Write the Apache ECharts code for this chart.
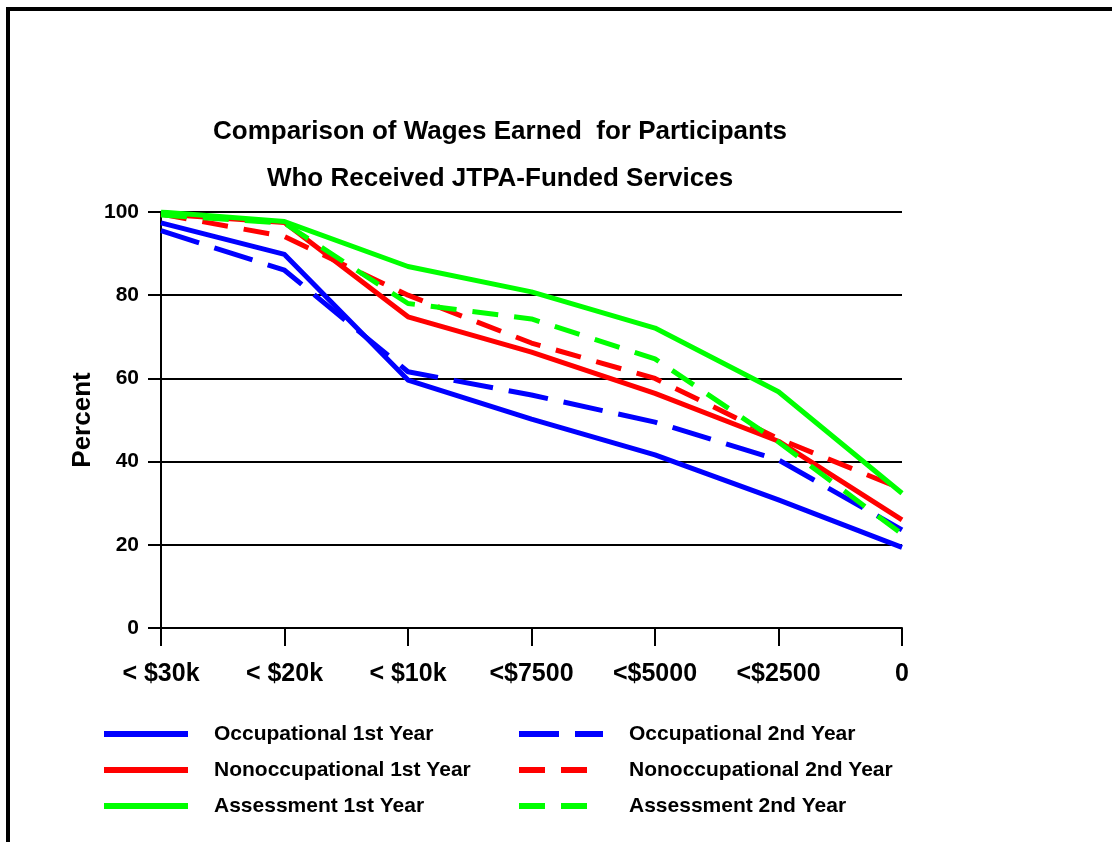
<!DOCTYPE html>
<html>
<head>
<meta charset="utf-8">
<script src="https://cdn.jsdelivr.net/npm/echarts@6/dist/echarts.min.js"></script>
<style>
html,body{margin:0;padding:0;background:#fff;}
#chart{width:1112px;height:842px;}
</style>
</head>
<body>
<div id="chart"></div>
<script>
const categories = ['< $30k', '< $20k', '< $10k', '<$7500', '<$5000', '<$2500', '0'];
const yTicks = [0, 20, 40, 60, 80, 100];
const occupational1 = [97.4, 89.8, 59.6, 50.2, 41.6, 30.8, 19.4];
const occupational2 = [95.5, 86.0, 61.6, 56.0, 49.5, 40.4, 23.6];
const nonoccupational1 = [99.5, 97.5, 74.8, 66.3, 56.4, 44.9, 26.0];
const nonoccupational2 = [99.5, 94.1, 80.0, 68.5, 60.0, 45.5, 33.4];
const assessment1 = [100, 97.7, 86.9, 80.8, 72.1, 56.8, 32.4];
const assessment2 = [99.3, 97.3, 78.0, 74.3, 64.7, 44.7, 22.6];
const titleLines = ['Comparison of Wages Earned  for Participants', 'Who Received JTPA-Funded Services'];
const yAxisTitle = 'Percent';

const FONT = '"Liberation Sans", Arial, Helvetica, sans-serif';
const BLUE = '#0000ff', RED = '#ff0000', GREEN = '#00ff00';

function mk(name, data, color, dash) {
  return {
    name: name, type: 'line', data: data, symbol: 'none', smooth: false,
    lineStyle: { color: color, width: 5, type: dash || 'solid', cap: 'butt', join: 'round' },
    itemStyle: { color: color },
    emphasis: { disabled: true },
    animation: false
  };
}

const chart = echarts.init(document.getElementById('chart'), null, { renderer: 'canvas' });
const legendBase = {
  orient: 'vertical', padding: 0, itemWidth: 84, itemHeight: 14, itemGap: 12,
  lineStyle: { width: 6 },
  itemStyle: { opacity: 0, borderWidth: 0 },
  textStyle: { fontFamily: FONT, fontWeight: 'bold', fontSize: 21, color: '#000', lineHeight: 24, padding: [0, 0, 0, 21] },
  selectedMode: false
};
chart.setOption({
  animation: false,
  backgroundColor: '#fff',
  grid: { left: 161, right: 210, top: 212, bottom: 214, containLabel: false },
  legend: [
    Object.assign({}, legendBase, { left: 101, top: 722, data: ['Occupational 1st Year', 'Nonoccupational 1st Year', 'Assessment 1st Year'] }),
    Object.assign({}, legendBase, { left: 516, top: 722, data: ['Occupational 2nd Year', 'Nonoccupational 2nd Year', 'Assessment 2nd Year'] })
  ],
  xAxis: {
    type: 'category', data: categories, boundaryGap: false,
    axisLine: { show: true, lineStyle: { color: '#000', width: 2 } },
    axisTick: { show: true, length: 18, lineStyle: { color: '#000', width: 2 } },
    axisLabel: { color: '#000', fontFamily: FONT, fontWeight: 'bold', fontSize: 25, margin: 34, interval: 0 },
    splitLine: { show: false }
  },
  yAxis: {
    type: 'value', min: yTicks[0], max: yTicks[yTicks.length - 1], interval: 20,
    axisLine: { show: true, lineStyle: { color: '#000', width: 2 } },
    axisTick: { show: true, length: 13, lineStyle: { color: '#000', width: 2 } },
    axisLabel: { color: '#000', fontFamily: FONT, fontWeight: 'bold', fontSize: 21, margin: 22 },
    splitLine: { show: true, lineStyle: { color: '#000', width: 2 } }
  },
  series: [
    mk('Occupational 1st Year', occupational1, BLUE),
    mk('Occupational 2nd Year', occupational2, BLUE, [40, 16]),
    mk('Nonoccupational 1st Year', nonoccupational1, RED),
    mk('Nonoccupational 2nd Year', nonoccupational2, RED, [26, 16]),
    mk('Assessment 1st Year', assessment1, GREEN),
    mk('Assessment 2nd Year', assessment2, GREEN, [26, 16])
  ],
  graphic: [
    { type: 'rect', shape: { x: 6, y: 7, width: 1106, height: 4 }, style: { fill: '#000' }, silent: true },
    { type: 'rect', shape: { x: 6, y: 7, width: 4, height: 835 }, style: { fill: '#000' }, silent: true },
    { type: 'text', x: 500, y: 132, style: { text: titleLines[0], align: 'center', verticalAlign: 'middle', fill: '#000', font: 'bold 26px ' + FONT }, silent: true },
    { type: 'text', x: 500, y: 179, style: { text: titleLines[1], align: 'center', verticalAlign: 'middle', fill: '#000', font: 'bold 26px ' + FONT }, silent: true },
    { type: 'text', x: 83, y: 420, rotation: Math.PI / 2, style: { text: yAxisTitle, align: 'center', verticalAlign: 'middle', fill: '#000', font: 'bold 26px ' + FONT }, silent: true }
  ]
});
</script>
</body>
</html>
